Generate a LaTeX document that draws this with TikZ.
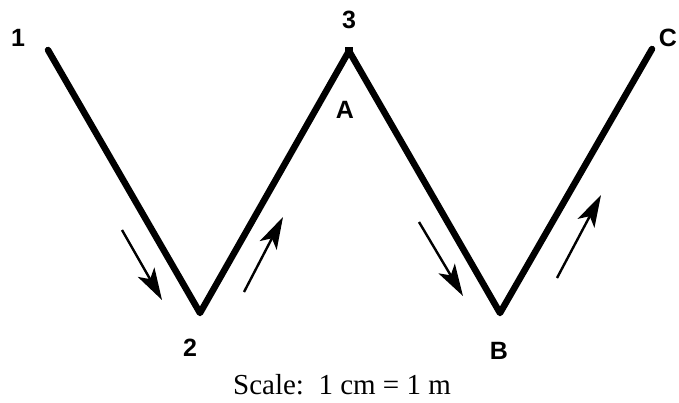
\documentclass[tikz,border=0pt]{standalone}
\usepackage{fontspec}
\setmainfont{Liberation Serif}
\newfontfamily\labelfont{Liberation Sans}
\usepackage{tikz}
\usetikzlibrary{arrows.meta, positioning}
\definecolor{ink}{HTML}{000000}
\tikzstyle{path}    = [draw=ink, line width=6.5pt, line join=round, line cap=round]
\tikzstyle{ptlabel} = [inner sep=0pt, font=\labelfont\bfseries\fontsize{25}{28}\selectfont, text=ink]
\tikzstyle{motion}  = [-{Stealth[length=32pt, width=19pt, inset=8pt]}, line width=2.4pt, draw=ink]
\tikzstyle{apex}    = [rectangle, fill=ink, minimum size=8pt, inner sep=0pt]

\begin{document}
\begin{tikzpicture}[x=1pt, y=-1pt]
  \useasboundingbox (0,0) rectangle (679,402);

  %% ── Path points ──
  \coordinate (p1) at (48,50);
  \coordinate (p2) at (200,313);
  \node[apex] (p3) at (349,51) {};
  \coordinate (pB) at (500,313);
  \coordinate (pC) at (652,49);

  \draw[path] (p1) -- (p2) -- (p3.center) -- (pB) -- (pC);

  %% ── Labels ──
  \node[ptlabel] (l1) at (18,38) {1};
  \node[ptlabel] (l2) at (190,348) {2};
  \node[ptlabel, above=18pt of p3] (l3) {3};
  \node[ptlabel] (lA) at (345,110) {A};
  \node[ptlabel] (lB) at (499,351) {B};
  \node[ptlabel] (lC) at (668,38) {C};

  %% ── Direction arrows ──
  \coordinate (a1s) at (122,230);
  \coordinate (a1e) at (162,300);
  \coordinate (a2s) at (244,292);
  \coordinate (a2e) at (283,217);
  \coordinate (a3s) at (419,222);
  \coordinate (a3e) at (463,296);
  \coordinate (a4s) at (557,278);
  \coordinate (a4e) at (601,195);

  \draw[motion] (a1s) -- (a1e);
  \draw[motion] (a2s) -- (a2e);
  \draw[motion] (a3s) -- (a3e);
  \draw[motion] (a4s) -- (a4e);

  %% ── Scale ──
  \node[font=\fontsize{29}{34}\selectfont, anchor=base] (scale) at (342,394)
        {Scale:\ \ 1 cm = 1 m};

\end{tikzpicture}
\end{document}
